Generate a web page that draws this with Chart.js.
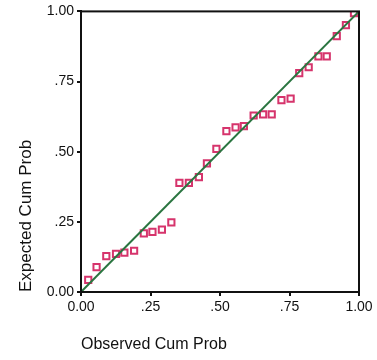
<!DOCTYPE html>
<html>
<head>
<meta charset="utf-8">
<script src="https://cdn.jsdelivr.net/npm/chart.js@4/dist/chart.umd.min.js"></script>
<style>
  html, body { margin: 0; padding: 0; background: #fff; }
  #wrap { width: 377px; height: 360px; }
</style>
</head>
<body>
<div id="wrap"><canvas id="ppPlot" width="377" height="360"></canvas></div>
<script>
// observed vs expected cumulative probabilities
const observed = [0.026, 0.056, 0.091, 0.126, 0.156, 0.191, 0.226, 0.257, 0.291, 0.325,
                  0.354, 0.388, 0.424, 0.453, 0.487, 0.523, 0.556, 0.586, 0.621, 0.655,
                  0.686, 0.721, 0.754, 0.785, 0.819, 0.854, 0.884, 0.920, 0.953, 0.982];
const expected = [0.043, 0.089, 0.128, 0.136, 0.140, 0.147, 0.209, 0.214, 0.222, 0.248,
                  0.389, 0.389, 0.409, 0.458, 0.510, 0.573, 0.587, 0.591, 0.629, 0.633,
                  0.633, 0.684, 0.689, 0.780, 0.801, 0.840, 0.840, 0.912, 0.951, 0.994];
const refLine = [0, 1];
const tickValues = [0, 0.25, 0.5, 0.75, 1];
const tickLabels = ['0.00', '.25', '.50', '.75', '1.00'];

const points = observed.map((x, i) => ({ x: x, y: expected[i] }));
const fontFamily = "'Liberation Sans', Arial, sans-serif";

// box around the plotting area
const frame = {
  id: 'frame',
  afterDatasetsDraw(chart) {
    const a = chart.chartArea;
    const ctx = chart.ctx;
    ctx.save();
    ctx.strokeStyle = '#111';
    ctx.lineWidth = 2;
    ctx.strokeRect(a.left, a.top, a.right - a.left, a.bottom - a.top);
    ctx.restore();
  }
};

function tickCallback(value) {
  const i = tickValues.indexOf(value);
  return i >= 0 ? tickLabels[i] : '';
}

function fixedTicks(scale) {
  scale.ticks = tickValues.map(v => ({ value: v }));
}

new Chart(document.getElementById('ppPlot'), {
  type: 'scatter',
  data: {
    datasets: [
      {
        type: 'line',
        data: refLine.map(v => ({ x: v, y: v })),
        borderColor: '#2a7540',
        borderWidth: 2,
        pointRadius: 0,
        fill: false,
        order: 1
      },
      {
        data: points,
        pointStyle: 'rect',
        pointRadius: 4.4,
        pointBorderWidth: 2,
        borderColor: '#d6346c',
        backgroundColor: 'rgba(255,255,255,0)',
        order: 2
      }
    ]
  },
  plugins: [frame],
  options: {
    responsive: false,
    animation: false,
    layout: { padding: { top: 11, right: 18, left: 0, bottom: 0 } },
    plugins: { legend: { display: false }, tooltip: { enabled: false } },
    scales: {
      x: {
        type: 'linear',
        min: 0, max: 1,
        afterBuildTicks: fixedTicks,
        afterFit(scale) { scale.height = 68; },
        grid: { drawOnChartArea: false, drawTicks: true, tickLength: 4, color: '#111', lineWidth: 2 },
        border: { display: true, color: '#111', width: 2 },
        ticks: { callback: tickCallback, color: '#111', padding: 3, maxRotation: 0,
                 font: { family: fontFamily, size: 14 } },
        title: { display: true, text: 'Observed Cum Prob', align: 'start', color: '#111',
                 padding: { top: 0, bottom: 6 }, font: { family: fontFamily, size: 16 } }
      },
      y: {
        type: 'linear',
        min: 0, max: 1,
        afterBuildTicks: fixedTicks,
        afterFit(scale) { scale.width = 81; },
        grid: { drawOnChartArea: false, drawTicks: true, tickLength: 4, color: '#111', lineWidth: 2 },
        border: { display: true, color: '#111', width: 2 },
        ticks: { callback: tickCallback, color: '#111', padding: 3,
                 font: { family: fontFamily, size: 14 } },
        title: { display: true, text: 'Expected Cum Prob', align: 'start', color: '#111',
                 padding: { top: 16, bottom: 0 }, font: { family: fontFamily, size: 17 } }
      }
    }
  }
});
</script>
</body>
</html>
